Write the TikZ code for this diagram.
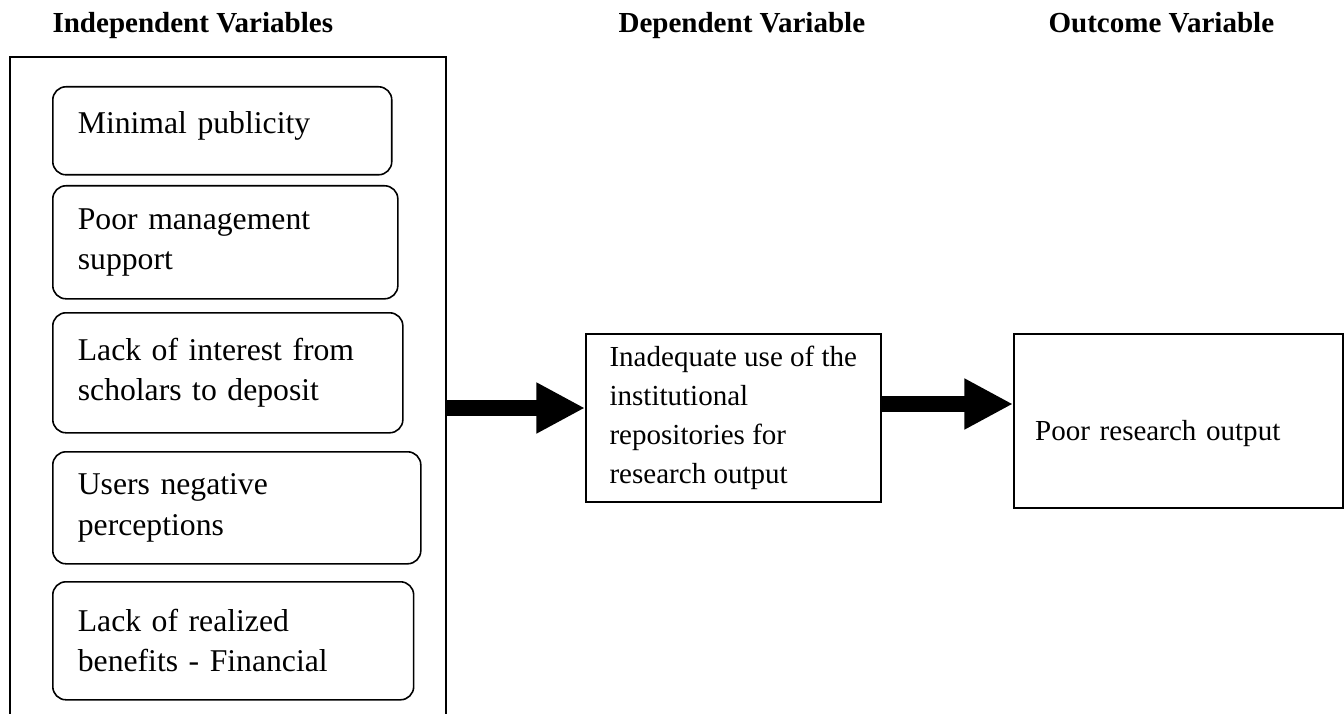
\documentclass[tikz,border=0pt]{standalone}
\usepackage{fontspec}
\setmainfont{Liberation Serif}
\usepackage{tikz}
\usetikzlibrary{arrows.meta,positioning}
\def\largeur{1344}
\def\hauteur{714}
\def\pix{0.3788pt}

\begin{document}
\begin{tikzpicture}[x=0.3788pt, y=-0.3788pt,
    head/.style={anchor=base west, inner sep=0pt, font=\fontsize{11}{13}\selectfont\bfseries},
    factor/.style={draw, rounded corners=5pt, line width=0.6pt, anchor=north west, align=left,
        inner xsep=9.5pt, inner ysep=0pt, font=\fontsize{12}{15.3}\selectfont},
    varbox/.style={draw, line width=0.6pt, anchor=north west, align=left,
        inner xsep=8pt, inner ysep=0pt, font=\fontsize{11}{14.7}\selectfont},
    bigarrow/.style={line width=6.2pt, -{Triangle[length=18.4pt, width=18pt]}}]
\clip (0,0) rectangle (\largeur,\hauteur);
%\draw[step=50, black!20] (0,0) grid (\largeur,\hauteur);
    % titles
    \node[head] (tindep) at (52,33) {Independent Variables};
    \node[head] (tdep) at (618,33) {Dependent Variable};
    \node[head] (tout) at (1048,33) {Outcome Variable};
    % left frame, open at the bottom of the page
    \node[draw, line width=0.75pt, anchor=north west, minimum width=436*\pix, minimum height=700*\pix] (indep) at (9,56) {};
    \node[factor, text width=109.4pt, text depth=6.5pt, minimum height=88*\pix] (f1) at (52,86) {Minimal publicity};
    \node[factor, text width=111.7pt, minimum height=113*\pix] (f2) at (52,185) {Poor management\\support};
    \node[factor, text width=113.6pt, minimum height=120*\pix] (f3) at (52,312) {Lack of interest from\\scholars to deposit};
    \node[factor, text width=120.4pt, minimum height=112*\pix] (f4) at (52,451) {Users negative\\perceptions};
    \node[factor, text width=117.7pt, minimum height=118*\pix] (f5) at (52,581) {Lack of realized\\benefits - Financial};
    % dependent and outcome
    \node[varbox, minimum width=295*\pix, minimum height=168*\pix] (dep) at (585,333) {Inadequate use of the\\institutional\\repositories for\\research output};
    \node[varbox, line width=0.8pt, text width=108.6pt, text height=17pt, minimum height=174*\pix] (outc) at (1013,333) {Poor research output};
    % arrows
    \draw[bigarrow] (indep.east |- 0,408) -- (dep.west |- 0,408);
    \draw[bigarrow] (dep.east |- 0,404) -- (outc.west |- 0,404);
\end{tikzpicture}
\end{document}
